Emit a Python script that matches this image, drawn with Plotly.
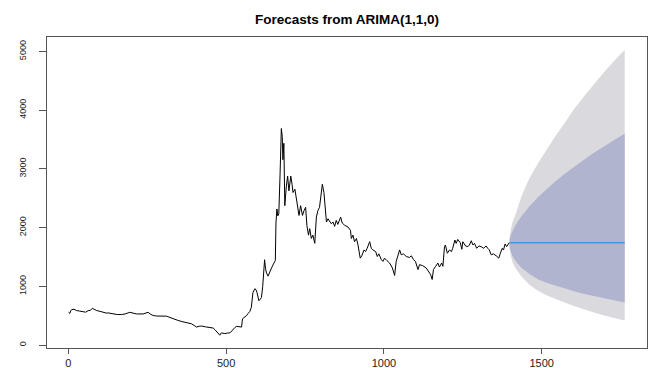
import plotly.graph_objects as go

# Observed series (time index, value)
t_obs = [1, 5, 8, 11, 18, 26, 35, 47, 55, 63, 70, 76, 82, 90, 100, 111, 120, 127, 142, 155,
         169, 180, 195, 205, 216, 237, 253, 262, 269, 280, 290, 300, 311, 322, 332, 348, 360, 369, 380, 390,
         400, 406, 415, 422, 435, 448, 459, 465, 470, 475, 480, 485, 490, 496, 505, 512, 518, 522, 528, 533,
         540, 549, 552, 558, 565, 570, 575, 580, 585, 591, 595, 598, 601, 604, 608, 612, 616, 619, 622, 625,
         628, 633, 638, 644, 650, 654, 656, 658, 661, 664, 667, 671, 675, 678, 680, 683, 686, 691, 695, 699,
         705, 709, 712, 718, 723, 728, 731, 736, 742, 747, 752, 756, 761, 765, 770, 775, 781, 786, 791, 796,
         800, 805, 810, 814, 818, 823, 828, 833, 839, 844, 849, 854, 863, 868, 876, 886, 894, 897, 902, 907,
         913, 918, 925, 930, 937, 942, 947, 955, 960, 965, 974, 979, 984, 992, 997, 1002, 1009, 1018, 1027, 1034,
         1039, 1044, 1050, 1055, 1062, 1071, 1081, 1087, 1094, 1100, 1108, 1113, 1123, 1134, 1142, 1148, 1153, 1157, 1164, 1171,
         1176, 1183, 1187, 1192, 1195, 1201, 1208, 1214, 1218, 1225, 1229, 1234, 1242, 1247, 1250, 1259, 1266, 1271, 1277, 1282,
         1287, 1294, 1301, 1308, 1316, 1324, 1329, 1334, 1340, 1347, 1356, 1364, 1369, 1375, 1379, 1384, 1389, 1395, 1397]
y_obs = [558, 540, 590, 603, 610, 587, 580, 570, 560, 587, 590, 626, 605, 587, 575, 558, 545, 547, 530, 520,
         520, 530, 558, 545, 530, 530, 558, 520, 503, 495, 492, 497, 492, 470, 447, 419, 400, 391, 375, 363,
         330, 307, 320, 324, 310, 302, 290, 260, 223, 195, 168, 207, 200, 196, 205, 207, 240, 268, 300, 318,
         312, 307, 447, 470, 503, 540, 570, 642, 893, 961, 940, 893, 820, 754, 780, 810, 1000, 1285, 1453, 1300,
         1229, 1173, 1250, 1313, 1380, 1425, 1440, 2080, 2318, 2200, 2234, 2900, 3687, 3548, 3156, 3436, 2374, 2710, 2877, 2626,
         2877, 2738, 2598, 2654, 2486, 2346, 2207, 2374, 2207, 2291, 2346, 2039, 1872, 1983, 1815, 1872, 1732, 2179, 2291, 2346,
         2514, 2738, 2598, 2318, 2095, 2151, 2100, 2067, 2095, 2022, 2123, 2056, 2179, 2078, 2039, 2011, 1955, 1815, 1872, 1760,
         1815, 1704, 1480, 1520, 1620, 1592, 1648, 1760, 1648, 1620, 1592, 1508, 1553, 1453, 1425, 1480, 1441, 1397, 1313, 1185,
         1425, 1537, 1620, 1537, 1553, 1508, 1492, 1520, 1453, 1425, 1285, 1369, 1352, 1313, 1257, 1201, 1117, 1285, 1341, 1397,
         1329, 1397, 1341, 1676, 1704, 1564, 1620, 1592, 1648, 1788, 1732, 1799, 1743, 1631, 1760, 1688, 1676, 1704, 1776, 1704,
         1732, 1648, 1688, 1676, 1648, 1688, 1648, 1620, 1537, 1553, 1520, 1480, 1564, 1648, 1620, 1721, 1676, 1743, 1743]

# Forecast horizon (time index) and intervals
t_fc = [1398, 1400, 1403, 1408, 1419, 1435, 1460, 1488, 1515, 1540, 1570, 1603, 1635, 1663, 1698, 1730, 1763]
fc_mean = [1743] * len(t_fc)
hi95 = [1825, 1900, 1990, 2100, 2250, 2520, 2830, 3090, 3330, 3530, 3760, 4020, 4240, 4430, 4650, 4840, 5030]
hi80 = [1790, 1833, 1883, 1948, 2059, 2190, 2357, 2517, 2654, 2772, 2903, 3038, 3162, 3265, 3387, 3495, 3603]
lo80 = [1690, 1630, 1580, 1510, 1420, 1320, 1215, 1120, 1060, 1010, 965, 915, 870, 835, 793, 760, 726]
lo95 = [1660, 1570, 1500, 1400, 1290, 1175, 1030, 925, 850, 790, 730, 665, 605, 560, 503, 460, 419]

x_ticks = [0, 500, 1000, 1500]
y_ticks = [0, 1000, 2000, 3000, 4000, 5000]

fig = go.Figure()
fig.add_trace(go.Scatter(x=t_fc + t_fc[::-1], y=hi95 + lo95[::-1], fill="toself",
                         fillcolor="#D9D9DE", line=dict(width=0), mode="lines",
                         hoverinfo="skip", showlegend=False))
fig.add_trace(go.Scatter(x=t_fc + t_fc[::-1], y=hi80 + lo80[::-1], fill="toself",
                         fillcolor="#B0B4CF", line=dict(width=0), mode="lines",
                         hoverinfo="skip", showlegend=False))
fig.add_trace(go.Scatter(x=t_obs, y=y_obs, mode="lines",
                         line=dict(color="black", width=1), showlegend=False))
fig.add_trace(go.Scatter(x=t_fc, y=fc_mean, mode="lines",
                         line=dict(color="#3A9BE3", width=1.5), showlegend=False))

axis_font = dict(family="Liberation Sans, Arial, sans-serif", color="#222")
fig.update_layout(
    width=656, height=368,
    margin=dict(l=47, r=9, t=37, b=20),
    paper_bgcolor="white", plot_bgcolor="white",
    title=dict(text="<b>Forecasts from ARIMA(1,1,0)</b>", x=0.5, xref="paper",
               y=1 - 19 / 368, yref="container", yanchor="middle", xanchor="center",
               font=dict(family="Liberation Sans, Arial, sans-serif", size=13.5, color="black")),
    xaxis=dict(range=[-67.5, 1833.7], tickvals=x_ticks, ticks="outside", ticklen=5,
               tickcolor="#555", showgrid=False, zeroline=False, showline=True, mirror=True,
               linecolor="#555", linewidth=1, tickfont=dict(size=11, **axis_font),
               ticklabelstandoff=0, automargin=False),
    yaxis=dict(range=[-50, 5246], tickvals=y_ticks, ticks="outside", ticklen=7,
               tickcolor="#555", showgrid=False, zeroline=False, showline=True, mirror=True,
               linecolor="#555", linewidth=1, tickangle=-90,
               tickfont=dict(size=9, **axis_font), ticklabelstandoff=9, automargin=False),
)
fig.write_html("out.html")
